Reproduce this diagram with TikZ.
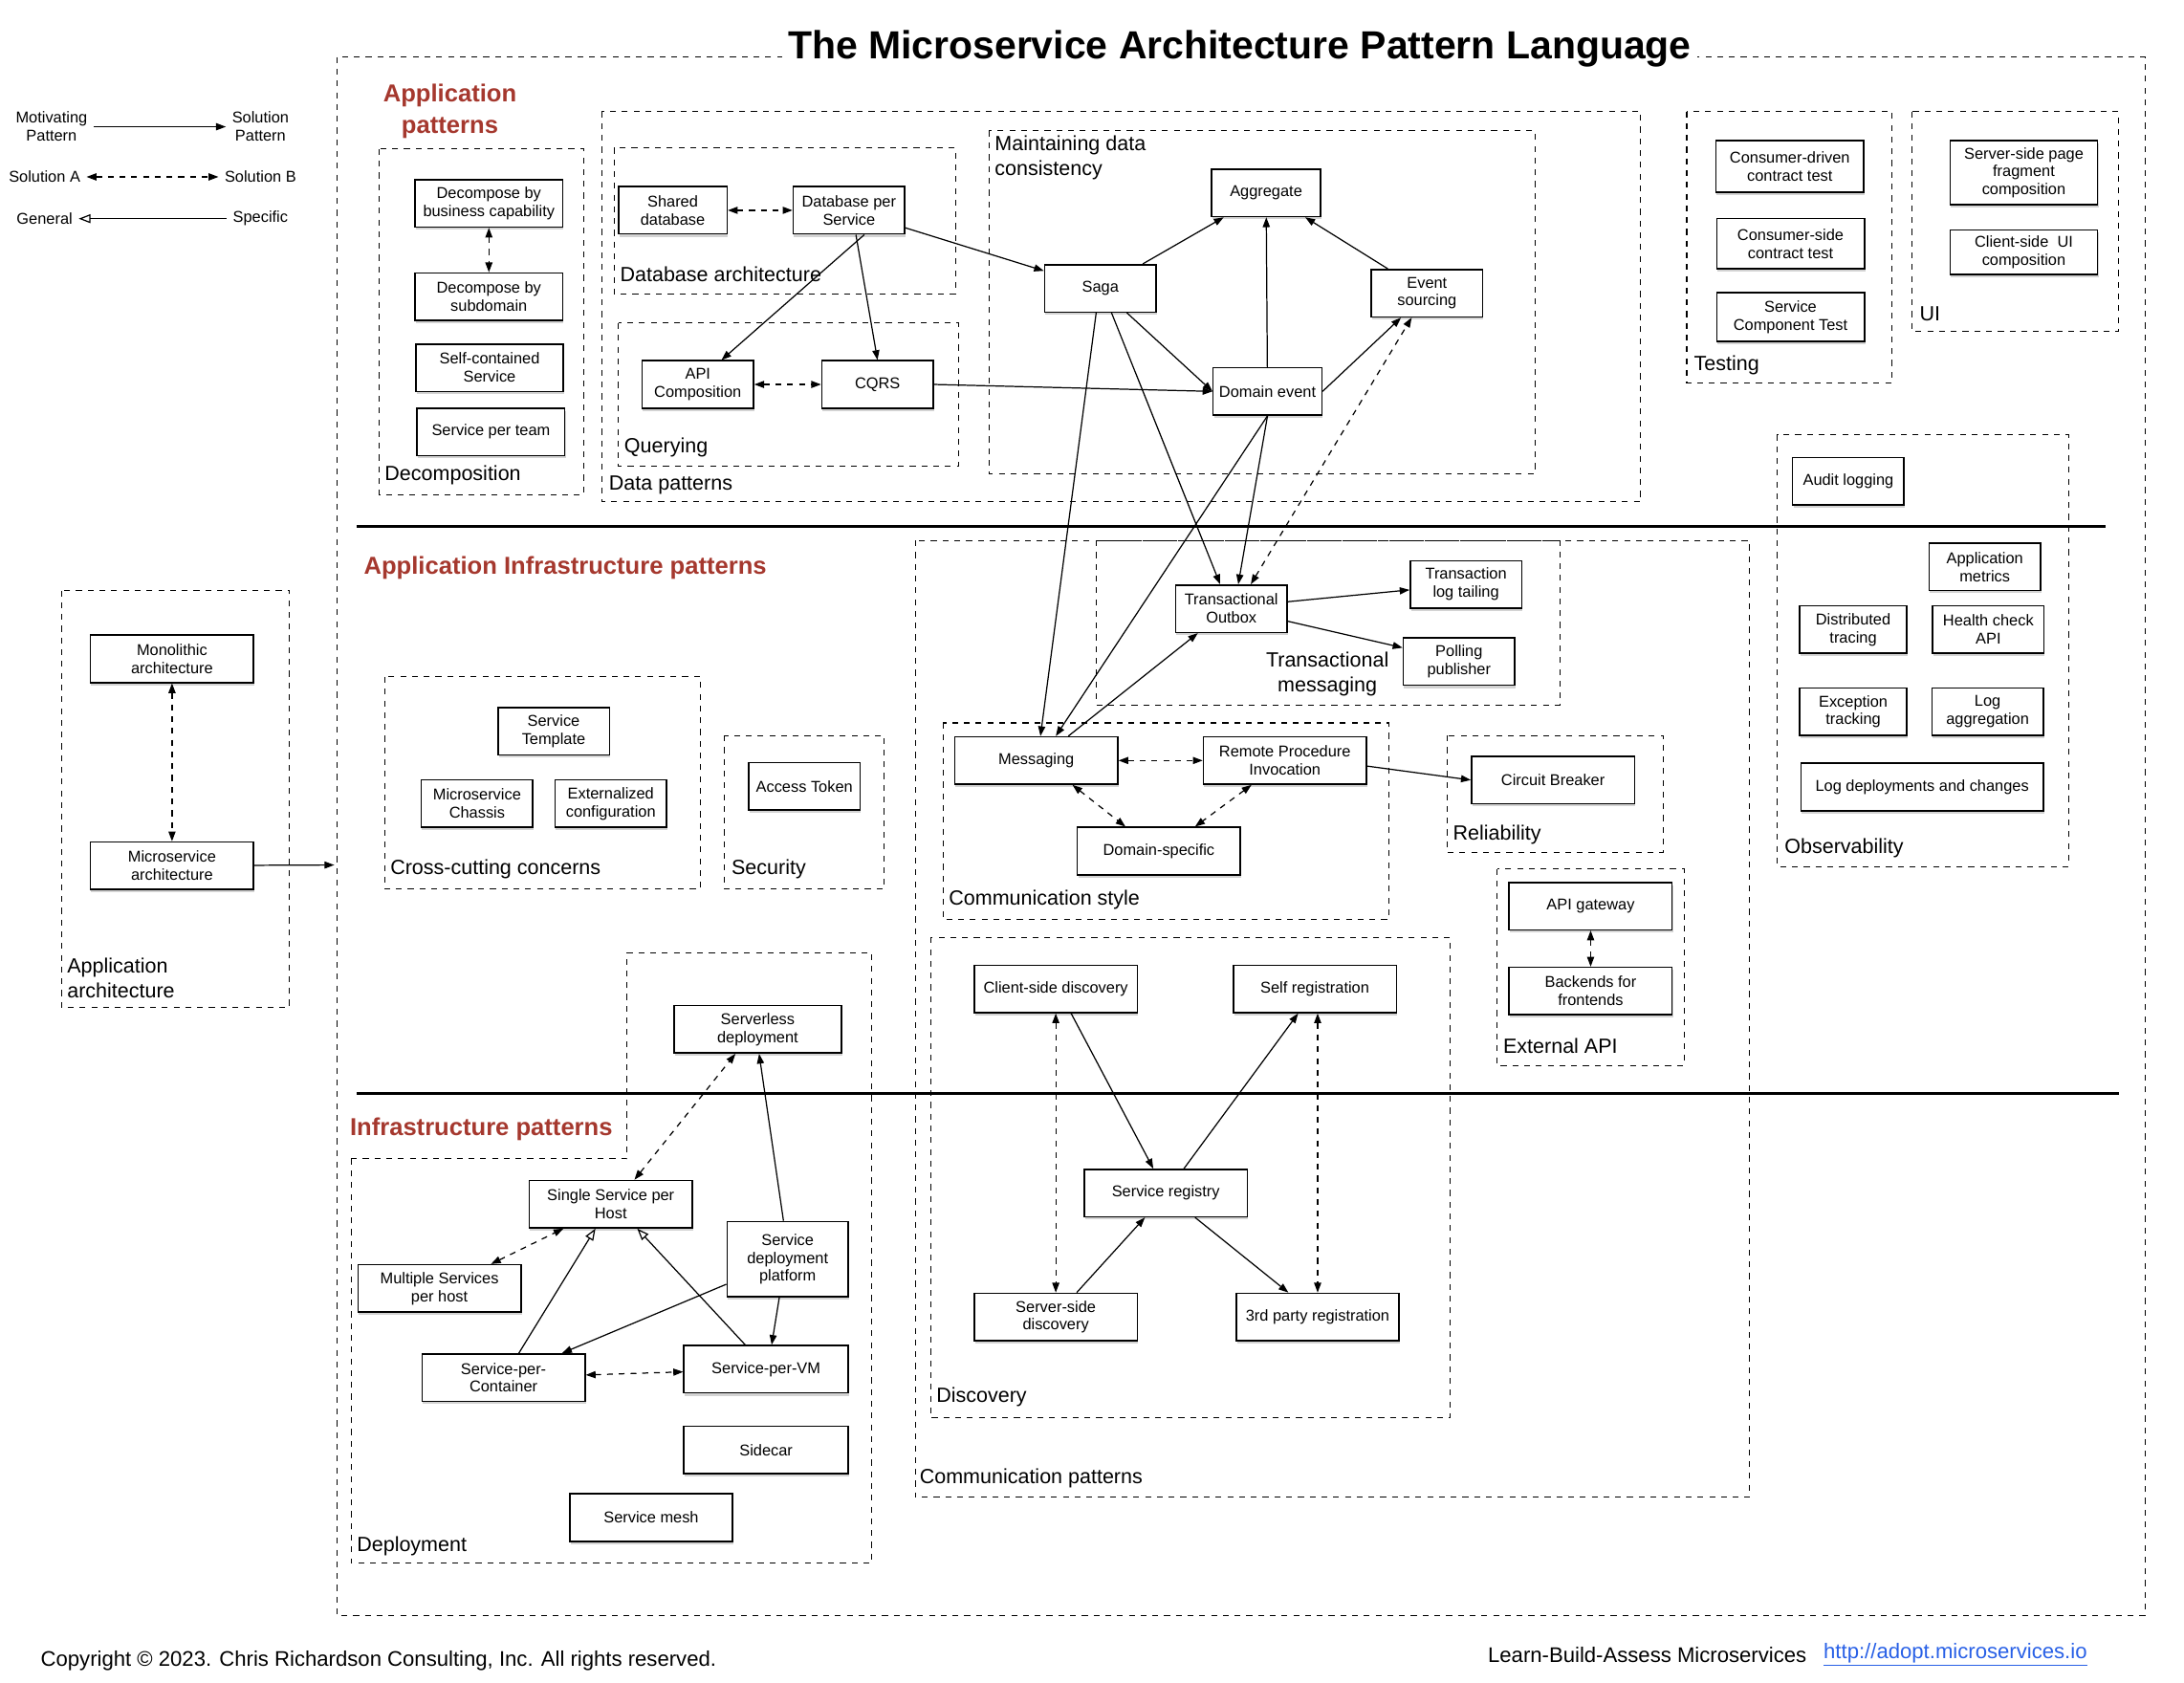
\documentclass[tikz,border=0pt]{standalone}
\usepackage{fontspec}
\setmainfont{Liberation Sans}
\usetikzlibrary{calc,arrows.meta,shadows}
\definecolor{hdrred}{RGB}{165,56,46}
\definecolor{urlblue}{RGB}{40,96,230}

\begin{document}
\begin{tikzpicture}[x=0.025cm,y=-0.025cm]
    \tikzstyle{pat}=[draw,line width=0.75pt,fill=white,align=center,inner sep=1pt,font=\fontsize{8}{9.2}\selectfont,minimum width=2cm,minimum height=0.85cm,drop shadow={shadow xshift=0.4pt,shadow yshift=-1.4pt,opacity=0.35}]
    \tikzstyle{patw}=[pat,minimum width=2.65cm]
    \tikzstyle{patx}=[pat,minimum width=2.925cm]
    \tikzstyle{legend}=[align=center,inner sep=3pt,font=\fontsize{8}{9.2}\selectfont]
    \tikzstyle{grp}=[dashed,line width=0.5pt]
    \tikzstyle{grplbl}=[anchor=west,align=left,inner sep=0pt,font=\fontsize{10.5}{12.8}\selectfont]
    \tikzstyle{hdr}=[text=hdrred,inner sep=0pt,font=\bfseries\fontsize{12.5}{16.3}\selectfont]
    \tikzstyle{foot}=[anchor=west,inner sep=0pt,font=\fontsize{10.8}{12}\selectfont]
    \tikzstyle{leads}=[line width=0.6pt,-{Triangle[length=5pt,width=3.6pt]}]
    \tikzstyle{alt}=[line width=0.6pt,dashed,{Triangle[length=5pt,width=3.6pt]}-{Triangle[length=5pt,width=3.6pt]}]
    \tikzstyle{isa}=[line width=0.6pt,-{Triangle[open,length=6pt,width=4.5pt]}]
    \tikzstyle{divider}=[line width=1.2pt]

    \useasboundingbox (0,0) rectangle (1568,1208);

    % legend
    \node at (37,91) (motiv) [legend] {Motivating\\Pattern};
    \node at (187,91) (solpat) [legend] {Solution\\Pattern};
    \node at (32,127) (sola) [legend] {Solution A};
    \node at (187,127) (solb) [legend] {Solution B};
    \node at (32,157) (general) [legend] {General};
    \node at (187,157) (specific) [legend] {Specific};
    \draw[leads] (motiv) -- (solpat);
    \draw[alt] (sola) -- (solb);
    \draw[isa] (specific) -- (general);

    % dashed groups
    \draw[grp] (242,41) rectangle (1540,1160);
    \draw[grp] (44,424) rectangle (208,723);
    \draw[grp] (272,107) rectangle (419,355);
    \draw[grp] (432,80) rectangle (1178,360);
    \draw[grp] (441,106) rectangle (686,211);
    \draw[grp] (444,232) rectangle (688,335);
    \draw[grp] (710,94) rectangle (1102,340);
    \draw[grp] (1211,80) rectangle (1358,275);
    \draw[grp] (1373,80) rectangle (1521,238);
    \draw[grp] (1276,312) rectangle (1485,622);
    \draw[grp] (276,486) rectangle (503,638);
    \draw[grp] (520,528) rectangle (635,638);
    \draw[grp] (657,388) rectangle (1256,1075);
    \draw[grp] (787,388) rectangle (1120,506);
    \draw[grp] (677,519) rectangle (997,660);
    \draw[grp] (1039,528) rectangle (1194,612);
    \draw[grp] (1075,624) rectangle (1209,765);
    \draw[grp] (668,673) rectangle (1041,1018);
    \draw[grp] (252,832) -- (450,832) -- (450,684) -- (626,684) -- (626,1122) -- (252,1122) -- cycle;

    \draw[divider] (256,378) -- (1512,378);
    \draw[divider] (256,785) -- (1521,785);

    \node at (890,35) (title) [fill=white,inner sep=3pt,font=\bfseries\fontsize{20}{24}\selectfont] {The Microservice Architecture Pattern Language};
    \node at (323,80) (hdrapp) [hdr,align=center] {Application\\patterns};
    \node at (261,408) (hdrinfra) [hdr,anchor=west] {Application Infrastructure patterns};
    \node at (251,811) (hdrdeploy) [hdr,anchor=west] {Infrastructure patterns};

    \node at (276,341) (lbldecomp) [grplbl] {Decomposition};
    \node at (445,197) (lbldbarch) [grplbl] {Database architecture};
    \node at (448,321) (lblquery) [grplbl] {Querying};
    \node at (437,348) (lbldata) [grplbl] {Data patterns};
    \node at (714,97) (lblmdc) [grplbl,anchor=north west] {Maintaining data\\consistency};
    \node at (1216,262) (lbltest) [grplbl] {Testing};
    \node at (1378,225) (lblui) [grplbl] {UI};
    \node at (1281,609) (lblobs) [grplbl] {Observability};
    \node at (48,702) (lblapparch) [grplbl] {Application\\architecture};
    \node at (280,624) (lblccc) [grplbl] {Cross-cutting concerns};
    \node at (525,624) (lblsec) [grplbl] {Security};
    \node at (953,484) (lbltxm) [grplbl,anchor=center,align=center] {Transactional\\messaging};
    \node at (681,646) (lblcstyle) [grplbl] {Communication style};
    \node at (1043,599) (lblrel) [grplbl] {Reliability};
    \node at (1079,751) (lblextapi) [grplbl] {External API};
    \node at (672,1003) (lbldisc) [grplbl] {Discovery};
    \node at (660,1061) (lblcomm) [grplbl] {Communication patterns};
    \node at (256,1110) (lbldeploy) [grplbl] {Deployment};

    % application patterns
    \node at (351,146) (dcap) [patw] {Decompose by\\business capability};
    \node at (351,213) (dsub) [patw] {Decompose by\\subdomain};
    \node at (351.5,264) (scs) [patw] {Self-contained\\Service};
    \node at (352.5,310) (spt) [patw] {Service per team};

    \node at (483,151) (shared) [pat,minimum width=1.95cm] {Shared\\database};
    \node at (609.5,151) (dbps) [pat] {Database per\\Service};
    \node at (501,276) (apic) [pat] {API\\Composition};
    \node at (630,276) (cqrs) [pat] {CQRS};

    \node at (909,138.5) (agg) [pat,minimum width=1.95cm] {Aggregate};
    \node at (790,207) (saga) [pat] {Saga};
    \node at (1024.5,210.5) (evs) [pat] {Event\\sourcing};
    \node at (910,281) (domain) [pat,minimum width=1.95cm] {Domain event};

    \node at (1285,119.5) (cdct) [patw,minimum height=0.925cm] {Consumer-driven\\contract test};
    \node at (1285.5,175) (csct) [patw,minimum height=0.9cm] {Consumer-side\\contract test};
    \node at (1285.5,227.5) (sct) [patw,minimum height=0.875cm] {Service\\Component Test};
    \node at (1453,124) (sspf) [patw,minimum height=1.15cm] {Server-side page\\fragment\\composition};
    \node at (1453,181) (csui) [patw,minimum height=0.8cm] {Client-side~ UI\\composition};

    \node at (1327,345.5) (audit) [pat] {Audit logging};
    \node at (1425,407) (appm) [pat] {Application\\metrics};
    \node at (1330.5,452) (dist) [pat,minimum width=1.925cm] {Distributed\\tracing};
    \node at (1427.5,452) (health) [pat] {Health check\\API};
    \node at (1330.5,511) (exc) [pat,minimum width=1.925cm] {Exception\\tracking};
    \node at (1427,511) (logagg) [pat] {Log\\aggregation};
    \node at (1380,565) (logdep) [pat,minimum width=4.35cm] {Log deployments and changes};

    % application infrastructure patterns
    \node at (123.5,473) (mono) [patx] {Monolithic\\architecture};
    \node at (123.5,621.5) (micro) [patx] {Microservice\\architecture};
    \coordinate (appedge) at (240,621);

    \node at (397.5,525) (stemp) [pat] {Service\\Template};
    \node at (342.5,577) (chassis) [pat] {Microservice\\Chassis};
    \node at (438.5,577) (extcfg) [pat] {Externalized\\configuration};
    \node at (577.5,564.5) (token) [pat] {Access Token};

    \node at (884,437) (outbox) [pat] {Transactional\\Outbox};
    \node at (1052.5,419.5) (tlt) [pat] {Transaction\\log tailing};
    \node at (1047.5,475) (poll) [pat] {Polling\\publisher};

    \node at (744,546) (msg) [patx] {Messaging};
    \node at (922.5,546) (rpi) [patx] {Remote Procedure\\Invocation};
    \node at (832,611) (dsp) [patx] {Domain-specific};
    \node at (1115,560) (cb) [patx] {Circuit Breaker};

    \node at (1142,650.5) (apigw) [patx] {API gateway};
    \node at (1142,711.5) (bff) [patx] {Backends for\\frontends};

    \node at (758,710) (csd) [patx] {Client-side discovery};
    \node at (944,710) (selfreg) [patx] {Self registration};
    \node at (837,856.5) (registry) [patx] {Service registry};
    \node at (758,945.5) (ssd) [patx] {Server-side\\discovery};
    \node at (946,945.5) (tpreg) [patx] {3rd party registration};

    % infrastructure patterns
    \node at (544,739) (serverless) [pat,minimum width=3cm] {Serverless\\deployment};
    \node at (438.5,864.5) (ssph) [patx] {Single Service per\\Host};
    \node at (315.5,925) (msph) [patx] {Multiple Services\\per host};
    \node at (565.5,904) (sdp) [pat,minimum width=2.175cm,minimum height=1.35cm] {Service\\deployment\\platform};
    \node at (361.5,989) (spc) [patx] {Service-per-\\Container};
    \node at (550,983) (spvm) [pat,minimum width=2.95cm] {Service-per-VM};
    \node at (550,1041) (sidecar) [pat,minimum width=2.95cm] {Sidecar};
    \node at (467.5,1089.5) (mesh) [patx] {Service mesh};

    % connectors
    \draw[alt] (dcap) -- (dsub);
    \draw[alt] (shared) -- (dbps);
    \draw[alt] (apic) -- (cqrs);
    \draw[leads] ($(dbps.south)+(11,0)$) -- ($(apic.north)+(17,0)$);
    \draw[leads] ($(dbps.south)+(5,0)$) -- (cqrs.north);
    \draw[leads] (dbps) -- (saga);
    \draw[leads] (cqrs.east) -- (domain.west);
    \draw[leads] (saga) -- (agg);
    \draw[leads] (evs) -- (agg);
    \draw[leads] (domain) -- (agg);
    \draw[leads] (domain.east) -- (evs);
    \draw[leads] ($(saga.south)+(19,0)$) -- (domain.west);
    \draw[leads] ($(saga.south)+(-3,0)$) -- ($(msg.north)+(3,0)$);
    \draw[leads] ($(saga.south)+(8,0)$) -- ($(outbox.north)+(-8,0)$);
    \draw[leads] (domain.south) -- ($(msg.north)+(14,0)$);
    \draw[leads] (domain.south) -- ($(outbox.north)+(5,0)$);
    \draw[alt] ($(outbox.north)+(14,0)$) -- ($(evs.south)+(-11,0)$);
    \draw[leads] ($(msg.north)+(23,0)$) -- ($(outbox.south)+(-24,0)$);
    \draw[leads] ($(outbox.east)+(0,-5)$) -- ($(tlt.west)+(0,4)$);
    \draw[leads] ($(outbox.east)+(0,9)$) -- ($(poll.west)+(0,-10)$);

    \draw[alt] (msg) -- (rpi);
    \draw[alt] ($(msg.south)+(26,0)$) -- ($(dsp.north)+(-24,0)$);
    \draw[alt] ($(rpi.south)+(-24,0)$) -- ($(dsp.north)+(26,0)$);
    \draw[leads] ($(rpi.east)+(0,4)$) -- (cb.west);
    \draw[alt] (apigw) -- (bff);

    \draw[alt] (mono) -- (micro);
    \draw[leads] (micro) -- (appedge);

    \draw[alt] (csd) -- (ssd);
    \draw[leads] ($(csd.south)+(11,0)$) -- ($(registry.north)+(-9,0)$);
    \draw[leads] ($(registry.north)+(13,0)$) -- ($(selfreg.south)+(-12,0)$);
    \draw[alt] ($(selfreg.south)+(2,0)$) -- (tpreg.north);
    \draw[leads] ($(ssd.north)+(15,0)$) -- ($(registry.south)+(-15,0)$);
    \draw[leads] ($(registry.south)+(21,0)$) -- ($(tpreg.north)+(-21,0)$);

    \draw[alt] ($(ssph.north)+(17,0)$) -- ($(serverless.south)+(-16,0)$);
    \draw[leads] ($(sdp.north)+(-3,0)$) -- ($(serverless.south)+(1,0)$);
    \draw[alt] ($(msph.north)+(37,0)$) -- ($(ssph.south)+(-34,0)$);
    \draw[isa] ($(spc.north)+(11,0)$) -- ($(ssph.south)+(-11,0)$);
    \draw[isa] ($(spvm.north)+(-15,0)$) -- ($(ssph.south)+(19,0)$);
    \draw[leads] ($(sdp.west)+(0,18)$) -- ($(spc.north)+(42,0)$);
    \draw[leads] ($(sdp.south)+(-6,0)$) -- ($(spvm.north)+(4,0)$);
    \draw[alt] (spc) -- (spvm);

    % footer
    \node at (29,1192) (copyr) [foot] {Copyright © 2023. Chris Richardson Consulting, Inc. All rights reserved.};
    \node at (1068,1188) (lba) [foot] {Learn-Build-Assess Microservices};
    \node at (1309,1188) (url) [foot,text=urlblue] {\underline{http://adopt.microservices.io}};
\end{tikzpicture}
\end{document}
